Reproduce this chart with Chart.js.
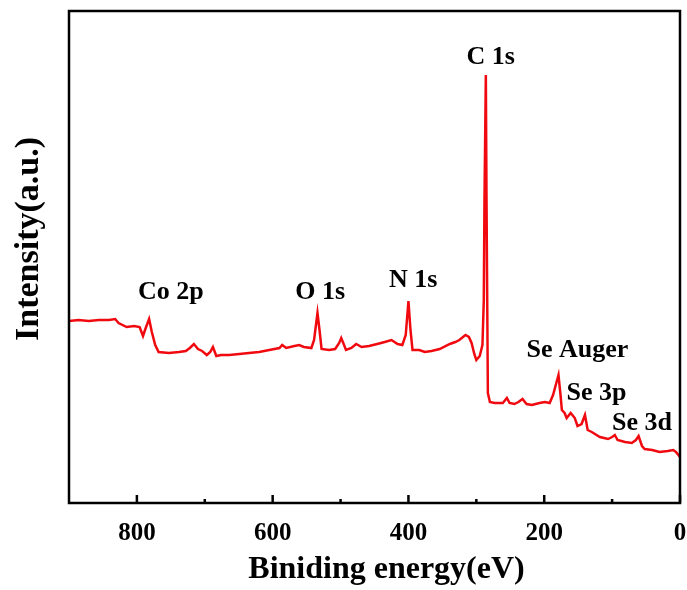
<!DOCTYPE html>
<html>
<head>
<meta charset="utf-8">
<script src="https://cdn.jsdelivr.net/npm/chart.js@4"></script>
<style>
  html, body { margin: 0; padding: 0; background: #fff; }
  #wrap { width: 687px; height: 590px; }
</style>
</head>
<body>
<div id="wrap"><canvas id="myChart" width="687" height="590"></canvas></div>
<script>
// binding energy (eV) and intensity (a.u.)
const energy = [900, 886, 871, 856, 841, 832, 827, 815, 804, 796, 791, 787, 782, 778, 773, 768,
  753, 738, 728, 722, 716, 710, 704, 697, 692, 688, 683, 676, 664, 649, 635, 620, 605, 590,
  586, 580, 568, 561, 554, 543, 539, 534, 531, 528, 517, 508, 502, 499, 496, 492, 484, 477,
  469, 458, 446, 435, 425, 416, 409, 404, 400, 397, 394, 384, 376, 366, 354, 339, 331, 325,
  316, 311, 307, 303, 300, 295, 291, 289, 288, 286, 285, 283, 280, 273, 266, 261, 255, 251,
  244, 238, 232, 226, 218, 207, 199, 192, 187, 183, 179, 176, 174, 170, 167, 161, 155, 151,
  145, 140, 136, 130, 118, 106, 100, 96, 92, 81, 71, 65, 61, 56, 52, 41, 30, 18, 10, 6, 0];
const intensity = [182, 183, 182, 183, 183, 184, 180, 176, 177, 176, 167, 175, 184, 171, 158, 151,
  150, 151, 152, 155, 159, 154, 152, 148, 151, 156, 147, 148, 148, 149, 150, 151, 153, 155,
  158, 155, 157, 158, 156, 155, 163, 190, 173, 154, 153, 154, 160, 165, 160, 153, 155, 159,
  156, 157, 159, 161, 163, 159, 158, 168, 202, 173, 153, 153, 151, 152, 154, 159, 161, 163,
  168, 166, 160, 149, 143, 147, 158, 203, 303, 428, 303, 110, 101, 100, 100, 100, 105, 100,
  99, 101, 104, 99, 98, 100, 101, 100, 108, 118, 128, 108, 93, 90, 85, 90, 85, 77,
  79, 88, 73, 71, 66, 64, 66, 68, 63, 61, 60, 63, 67, 57, 54, 53, 51, 52, 53, 51, 46];

// peak labels: text, energy, intensity of the text baseline
const peakNames = ['C 1s', 'Co 2p', 'O 1s', 'N 1s', 'Se Auger', 'Se 3p', 'Se 3d'];
const peakEnergy = [279, 750, 530, 393, 151, 123, 56];
const peakLevel = [439, 204, 204, 216, 146, 103, 73];

const minorTicks = [100, 300, 500, 700];
const xTitle = 'Biniding energy(eV)';
const yTitle = 'Intensity(a.u.)';

const points = energy.map((e, i) => ({ x: e, y: intensity[i] }));

const serif = "'Liberation Serif', 'Times New Roman', serif";

const frame = {
  id: 'frame',
  afterDraw(chart) {
    const { ctx, chartArea: a } = chart;
    const xs = chart.scales.x;
    const ys = chart.scales.y;
    ctx.save();
    ctx.strokeStyle = '#000';
    ctx.lineWidth = 2.5;
    ctx.strokeRect(a.left, a.top, a.right - a.left, a.bottom - a.top);
    ctx.beginPath();
    xs.ticks.forEach(t => {
      const px = xs.getPixelForValue(t.value);
      ctx.moveTo(px, a.bottom);
      ctx.lineTo(px, a.bottom - 8);
    });
    minorTicks.forEach(v => {
      const px = xs.getPixelForValue(v);
      ctx.moveTo(px, a.bottom);
      ctx.lineTo(px, a.bottom - 4);
    });
    ctx.stroke();

    ctx.fillStyle = '#000';
    ctx.font = 'bold 26px ' + serif;
    ctx.textAlign = 'center';
    ctx.textBaseline = 'alphabetic';
    peakNames.forEach((name, i) => {
      ctx.fillText(name, xs.getPixelForValue(peakEnergy[i]), ys.getPixelForValue(peakLevel[i]));
    });

    // axis titles, slightly off-centre as in the original figure
    ctx.font = 'bold 32px ' + serif;
    ctx.fillText(xTitle, (a.left + a.right) / 2 + 12, 578);
    ctx.translate(29, (a.top + a.bottom) / 2 - 18);
    ctx.rotate(-Math.PI / 2);
    ctx.textBaseline = 'middle';
    ctx.font = 'bold 34px ' + serif;
    ctx.fillText(yTitle, 0, 0);
    ctx.restore();
  }
};

const ctx = document.getElementById('myChart');

new Chart(ctx, {
  type: 'line',
  data: {
    datasets: [{
      data: points,
      borderColor: 'rgb(240, 10, 15)',
      borderWidth: 2.5,
      pointRadius: 0,
      tension: 0
    }]
  },
  options: {
    responsive: false,
    animation: false,
    layout: { padding: { top: 11, right: 7, left: 0, bottom: 0 } },
    plugins: { legend: { display: false }, tooltip: { enabled: false } },
    scales: {
      x: {
        type: 'linear',
        reverse: true,
        min: 0,
        max: 900,
        grid: { display: false, drawTicks: false },
        border: { display: false },
        ticks: {
          stepSize: 200,
          includeBounds: false,
          autoSkip: false,
          maxRotation: 0,
          padding: 16,
          color: '#000',
          font: { family: serif, size: 25, weight: 'bold' }
        },
        afterFit(scale) {
          scale.height = 87;
          scale.paddingLeft = 0;
          scale.paddingRight = 0;
        }
      },
      y: {
        min: 0,
        max: 492,
        grid: { display: false, drawTicks: false },
        border: { display: false },
        ticks: { display: false },
        afterFit(scale) { scale.width = 69; }
      }
    }
  },
  plugins: [frame]
});
</script>
</body>
</html>
